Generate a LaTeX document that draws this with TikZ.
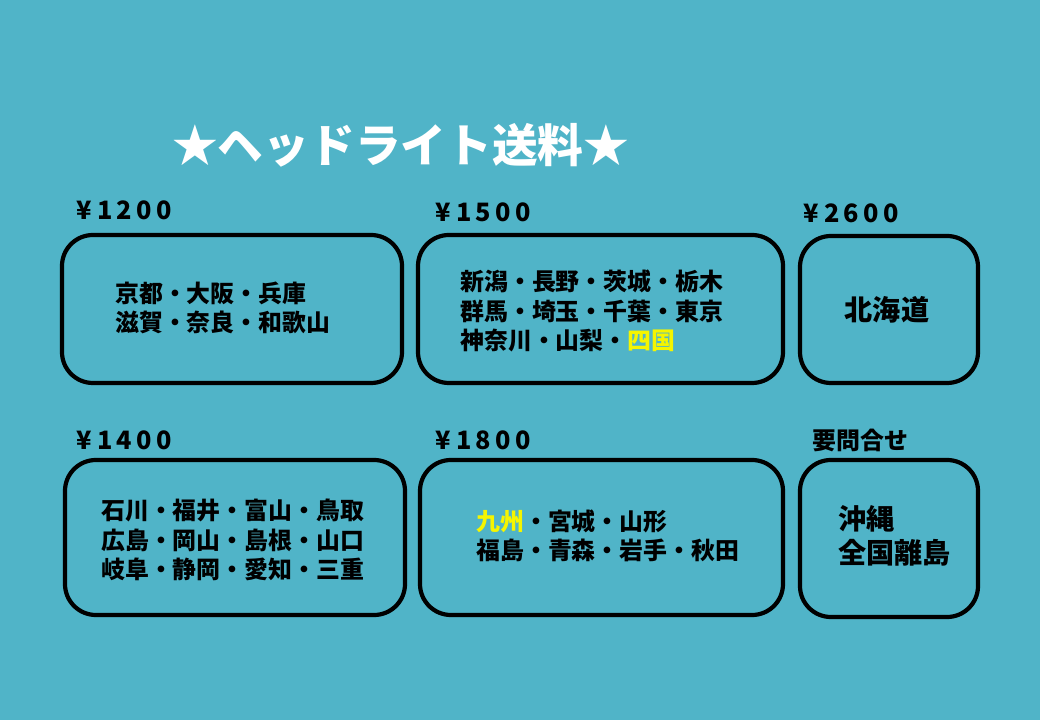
\documentclass[tikz,border=0pt]{standalone}
\usepackage{fontspec}
\newfontfamily\cjk{Noto Sans CJK JP}
\usetikzlibrary{positioning}
\definecolor{bgblue}{HTML}{50B4C8}
\definecolor{hilite}{HTML}{F5F500}
\tikzset{
  areabox/.style={draw=black,line width=3pt,rounded corners=22pt,fill=bgblue},
  price/.style={font=\cjk\bfseries\fontsize{18}{20}\selectfont,anchor=west,inner sep=0pt},
  areas/.style={font=\cjk\bfseries\fontsize{17}{21}\selectfont,anchor=west,align=left,inner sep=0pt}
}
\newcommand{\hl}[1]{\textcolor{hilite}{#1}}
\newcommand{\yen}[1]{¥\hspace{4pt}#1}
\begin{document}
\begin{tikzpicture}[x=0.025cm,y=-0.025cm]
  \fill[bgblue] (0,0) rectangle (1040,720);
  \node[font=\cjk\bfseries\fontsize{32.5}{36}\selectfont,text=white,anchor=west,inner sep=0pt] (title) at (172,145) {★ヘッドライト送料★};
  % boxes
  \draw[areabox] (62,235) rectangle (402,383);
  \draw[areabox] (418,235) rectangle (783,383);
  \draw[areabox] (800,236) rectangle (978,383);
  \draw[areabox] (65,460) rectangle (405,615);
  \draw[areabox] (420,460) rectangle (783,615);
  \draw[areabox] (800,460) rectangle (978,617);
  % prices
  \node[price] (p1200) at (76,210) {\yen{1\,2\,0\,0}};
  \node[price] (p1500) at (435,212) {\yen{1\,5\,0\,0}};
  \node[price] (p2600) at (803,213) {\yen{2\,6\,0\,0}};
  \node[price] (p1400) at (76,440) {\yen{1\,4\,0\,0}};
  \node[price] (p1800) at (435,440) {\yen{1\,8\,0\,0}};
  \node[price,font=\cjk\bfseries\fontsize{17}{20}\selectfont] (ask) at (812,440) {要問合せ};
  % areas
  \node[areas] (kinki) at (115,308) {京都・大阪・兵庫\\滋賀・奈良・和歌山};
  \node[areas] (kanto) at (460,311) {新潟・長野・茨城・栃木\\群馬・埼玉・千葉・東京\\神奈川・山梨・\hl{四国}};
  \node[areas,anchor=center,font=\cjk\bfseries\fontsize{20}{23}\selectfont] (hokkaido) at (887,310) {北海道};
  \node[areas] (chubu) at (101,540) {石川・福井・富山・鳥取\\広島・岡山・島根・山口\\岐阜・静岡・愛知・三重};
  \node[areas] (tohoku) at (476,536) {\hl{九州}・宮城・山形\\福島・青森・岩手・秋田};
  \node[areas,font=\cjk\bfseries\fontsize{20}{24}\selectfont] (okinawa) at (838,536) {沖縄\\全国離島};
\end{tikzpicture}
\end{document}
